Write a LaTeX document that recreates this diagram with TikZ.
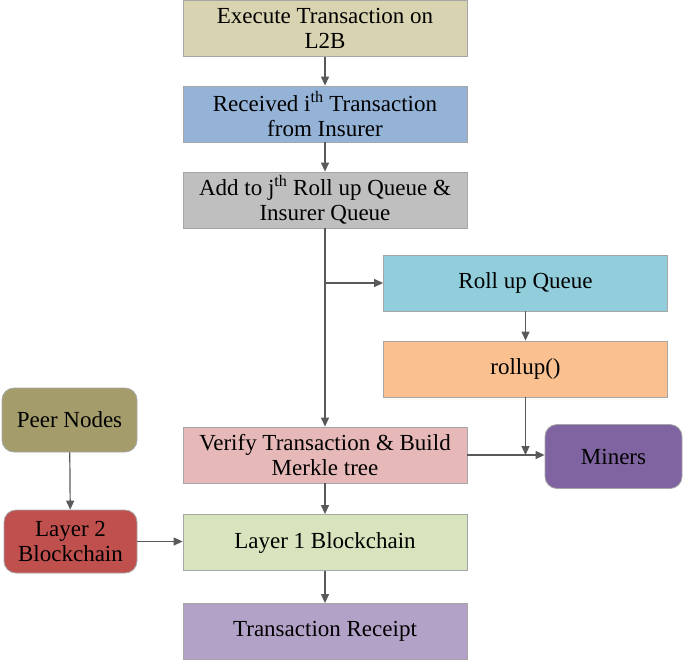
\documentclass[tikz,border=0pt]{standalone}
\usepackage{fontspec}
\setmainfont{Liberation Serif}
\usetikzlibrary{arrows.meta}
\definecolor{cTan}{HTML}{D8D3B0}
\definecolor{cBlue}{HTML}{95B3D7}
\definecolor{cGray}{HTML}{BFBFBF}
\definecolor{cCyan}{HTML}{92CDDC}
\definecolor{cOrange}{HTML}{FAC090}
\definecolor{cOlive}{HTML}{A49C6A}
\definecolor{cPink}{HTML}{E6B9B8}
\definecolor{cPurple}{HTML}{8064A2}
\definecolor{cRed}{HTML}{C0504D}
\definecolor{cGreen}{HTML}{D7E4BD}
\definecolor{cLav}{HTML}{B3A2C7}
\definecolor{cLine}{HTML}{595959}
\begin{document}
\begin{tikzpicture}[x=1pt,y=-1pt,
  box/.style={draw=gray!70,line width=0.8pt,minimum width=284pt,minimum height=56pt,align=center,inner sep=1pt,font=\fontsize{23}{25}\selectfont},
  rbox/.style={box,rounded corners=12pt,minimum width=135pt,minimum height=64pt},
  arr/.style={draw=cLine,line width=1.2pt,-{Triangle[length=9pt,width=8pt]}}]
\useasboundingbox (0,0) rectangle (685,664);
\node[box,fill=cTan] (b1) at (325,28.5) {Execute Transaction on\\L2B};
\node[box,fill=cBlue] (b2) at (325,114) {Received i\textsuperscript{th} Transaction\\from Insurer};
\node[box,fill=cGray] (b3) at (325,200) {Add to j\textsuperscript{th} Roll up Queue \&\\Insurer Queue};
\node[box,fill=cCyan] (rq) at (525.5,283) {Roll up Queue};
\node[box,fill=cOrange] (ru) at (525.5,369) {rollup()};
\node[rbox,fill=cOlive] (pn) at (69.5,420) {Peer Nodes};
\node[box,fill=cPink] (vt) at (325,455) {Verify Transaction \& Build\\Merkle tree};
\node[rbox,fill=cPurple,minimum width=137pt] (mi) at (613.5,456.5) {Miners};
\node[rbox,fill=cRed,minimum width=133pt,minimum height=63pt] (l2) at (70.5,541.5) {Layer 2\\Blockchain};
\node[box,fill=cGreen] (l1) at (325,542.5) {Layer 1 Blockchain};
\node[box,fill=cLav] (tr) at (325,631.5) {Transaction Receipt};
\coordinate (br) at (325,283);
\coordinate (mj) at (525.5,455);
\draw[arr] (b1) -- (b2);
\draw[arr] (b2) -- (b3);
\draw[arr] (b3) -- (vt);
\draw[arr] (br) -- (rq);
\draw[arr] (rq) -- (ru);
\draw[arr] (ru) -- (mj);
\draw[arr] (vt.east) -- (vt.east -| mi.west);
\draw[arr] (pn) -- (l2);
\draw[arr] (l2) -- (l2 -| l1.west);
\draw[arr] (vt) -- (l1);
\draw[arr] (l1) -- (tr);
\end{tikzpicture}
\end{document}
